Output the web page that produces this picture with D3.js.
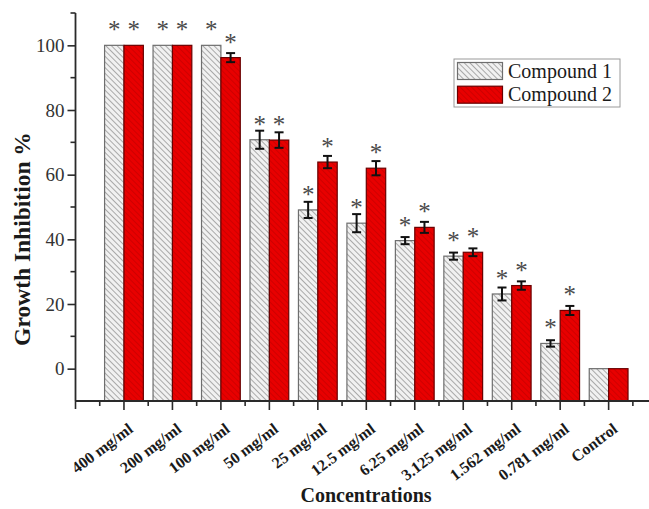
<!DOCTYPE html>
<html>
<head>
<meta charset="utf-8">
<script src="https://cdn.jsdelivr.net/npm/d3@7"></script>
<style>
  html, body { margin: 0; padding: 0; background: #fff; }
  svg { display: block; }
  text { font-family: "Liberation Serif", "Times New Roman", serif; }
</style>
</head>
<body>
<script>
// Concentrations tested
const categories = ["400 mg/ml", "200 mg/ml", "100 mg/ml", "50 mg/ml", "25 mg/ml",
  "12.5 mg/ml", "6.25 mg/ml", "3.125 mg/ml", "1.562 mg/ml", "0.781 mg/ml", "Control"];

// Growth inhibition (%) and standard errors
const compound1 = [100, 100, 100, 70.8, 49.1, 45.0, 39.6, 34.8, 23.1, 7.8, 0];
const compound1Err = [0, 0, 0, 2.8, 2.5, 2.8, 1.1, 1.1, 2.0, 1.0, 0];
const compound2 = [100, 100, 96.2, 70.7, 63.9, 62.0, 43.7, 36.0, 25.7, 18.0, 0];
const compound2Err = [0, 0, 1.4, 2.4, 1.9, 2.2, 1.7, 1.2, 1.3, 1.4, 0];

// Significance markers (*) per concentration
const significant = [true, true, true, true, true, true, true, true, true, true, false];

const seriesNames = ["Compound 1", "Compound 2"];
const yMajorTicks = [0, 20, 40, 60, 80, 100];
const yMinorTicks = [10, 30, 50, 70, 90, 110];

const W = 649, H = 509;
const svg = d3.select("body").append("svg").attr("width", W).attr("height", H);

const defs = svg.append("defs");
function hatch(id, bg, line, w) {
  const p = defs.append("pattern")
    .attr("id", id).attr("patternUnits", "userSpaceOnUse")
    .attr("width", 4).attr("height", 4)
    .attr("patternTransform", "rotate(-45)");
  p.append("rect").attr("width", 4).attr("height", 4).attr("fill", bg);
  p.append("line").attr("x1", 0.5).attr("y1", 0).attr("x2", 0.5).attr("y2", 4)
    .attr("stroke", line).attr("stroke-width", w);
}
hatch("hatch1", "#f1f1f1", "#a9a9a9", 1);
hatch("hatch2", "#e80000", "#c80000", 0.8);

const fills = ["url(#hatch1)", "url(#hatch2)"];
const strokes = ["#6e6e6e", "#6a0000"];

// Scales
const axisLeftX = 75.5, axisBottomY = 401;
const x0 = d3.scaleBand().domain(categories)
  .range([axisLeftX, 657.1]).paddingInner(0.2).paddingOuter(0.6);
const x1 = d3.scaleBand().domain(seriesNames).range([0, x0.bandwidth()]);
// Index scale for tick placement (category i at i, gaps at i±0.5)
const xi = d3.scaleLinear().domain([-1, categories.length])
  .range([axisLeftX, 657.1]);
const y = d3.scaleLinear().domain([-10, 110]).range([axisBottomY, 13]);

const rows = categories.map((c, i) => ({
  cat: c, i,
  vals: [
    { s: seriesNames[0], k: 0, v: compound1[i], e: compound1Err[i] },
    { s: seriesNames[1], k: 1, v: compound2[i], e: compound2Err[i] }
  ]
}));

// Bars
const groups = svg.append("g").selectAll("g").data(rows).join("g")
  .attr("transform", d => `translate(${x0(d.cat)},0)`);

groups.selectAll("rect").data(d => d.vals).join("rect")
  .attr("x", d => x1(d.s))
  .attr("y", d => y(Math.max(d.v, 0)))
  .attr("width", x1.bandwidth())
  .attr("height", d => y(-10) - y(Math.max(d.v, 0)))
  .attr("fill", d => fills[d.k])
  .attr("stroke", d => strokes[d.k])
  .attr("stroke-width", 1.2);

// Error bars
const eb = groups.selectAll("g.err").data(d => d.vals.filter(v => v.e > 0)).join("g")
  .attr("class", "err")
  .attr("stroke", "#111").attr("stroke-width", 2);
const cx = d => x1(d.s) + x1.bandwidth() / 2;
eb.append("line")
  .attr("x1", cx).attr("x2", cx)
  .attr("y1", d => y(d.v - d.e)).attr("y2", d => y(d.v + d.e));
eb.append("line")
  .attr("x1", d => cx(d) - 4.5).attr("x2", d => cx(d) + 4.5)
  .attr("y1", d => y(d.v + d.e)).attr("y2", d => y(d.v + d.e));
eb.append("line")
  .attr("x1", d => cx(d) - 4.5).attr("x2", d => cx(d) + 4.5)
  .attr("y1", d => y(d.v - d.e)).attr("y2", d => y(d.v - d.e));

// Significance asterisks
groups.filter(d => significant[d.i]).selectAll("text.star").data(d => d.vals).join("text")
  .attr("class", "star")
  .attr("x", cx)
  .attr("y", d => y(d.v) - 7)
  .attr("text-anchor", "middle")
  .attr("font-size", 25)
  .attr("fill", "#4a4a4a")
  .text("*");

// Y axis
const axisColor = "#2a2a2a";
const yAxis = svg.append("g").attr("transform", `translate(${axisLeftX},0)`)
  .call(d3.axisLeft(y).tickValues(yMajorTicks).tickSize(8).tickPadding(3))
  .call(g => g.select(".domain").remove());
yAxis.selectAll(".tick line").attr("stroke", axisColor).attr("stroke-width", 1.6);
yAxis.selectAll(".tick text").attr("font-size", 19).attr("fill", "#333")
  .attr("font-family", "Liberation Serif, serif");
svg.append("g").selectAll("line").data(yMinorTicks).join("line")
  .attr("x1", axisLeftX - 5).attr("x2", axisLeftX)
  .attr("y1", d => y(d)).attr("y2", d => y(d))
  .attr("stroke", axisColor).attr("stroke-width", 1.6);
svg.append("line")
  .attr("x1", axisLeftX).attr("x2", axisLeftX)
  .attr("y1", y(110)).attr("y2", axisBottomY)
  .attr("stroke", axisColor).attr("stroke-width", 1.8);

// X axis
const xAxis = svg.append("g").attr("transform", `translate(0,${axisBottomY})`)
  .call(d3.axisBottom(x0).tickSize(9).tickPadding(0))
  .call(g => g.select(".domain").remove());
xAxis.selectAll(".tick line").attr("stroke", axisColor).attr("stroke-width", 1.6);
xAxis.selectAll(".tick text")
  .attr("font-size", 16).attr("font-weight", "bold").attr("fill", "#1a1a1a")
  .attr("font-family", "Liberation Serif, serif")
  .attr("text-anchor", "end")
  .attr("y", 0).attr("dy", 0)
  .attr("transform", "translate(10,30) rotate(-37)");

const minorX = d3.range(-0.5, categories.length + 0.5, 1);
svg.append("g").selectAll("line").data(minorX).join("line")
  .attr("x1", d => xi(d)).attr("x2", d => xi(d))
  .attr("y1", axisBottomY).attr("y2", axisBottomY + 5)
  .attr("stroke", axisColor).attr("stroke-width", 1.6);
svg.append("line")
  .attr("x1", xi(-1)).attr("x2", xi(-1))
  .attr("y1", axisBottomY).attr("y2", axisBottomY + 8)
  .attr("stroke", axisColor).attr("stroke-width", 1.6);
svg.append("line")
  .attr("x1", xi(-1)).attr("x2", xi(categories.length))
  .attr("y1", axisBottomY).attr("y2", axisBottomY)
  .attr("stroke", axisColor).attr("stroke-width", 1.8);

// Axis titles
svg.append("text")
  .attr("x", 366).attr("y", 502)
  .attr("text-anchor", "middle")
  .attr("font-size", 20).attr("font-weight", "bold").attr("fill", "#1a1a1a")
  .text("Concentrations");
svg.append("text")
  .attr("transform", "translate(30,239) rotate(-90)")
  .attr("text-anchor", "middle")
  .attr("font-size", 23.5).attr("font-weight", "bold").attr("fill", "#1a1a1a")
  .text("Growth Inhibition %");

// Legend
const lg = svg.append("g").attr("transform", "translate(454,59)");
lg.append("rect").attr("width", 166).attr("height", 48)
  .attr("fill", "#fff").attr("stroke", "#9a9a9a").attr("stroke-width", 1);
seriesNames.forEach((name, k) => {
  lg.append("rect")
    .attr("x", 3.5).attr("y", 3.5 + k * 23.7)
    .attr("width", 45).attr("height", 17)
    .attr("fill", fills[k]).attr("stroke", strokes[k]).attr("stroke-width", 1.2);
  lg.append("text")
    .attr("x", 54).attr("y", 18.5 + k * 23.7)
    .attr("font-size", 20).attr("fill", "#1a1a1a")
    .text(name);
});
</script>
</body>
</html>
